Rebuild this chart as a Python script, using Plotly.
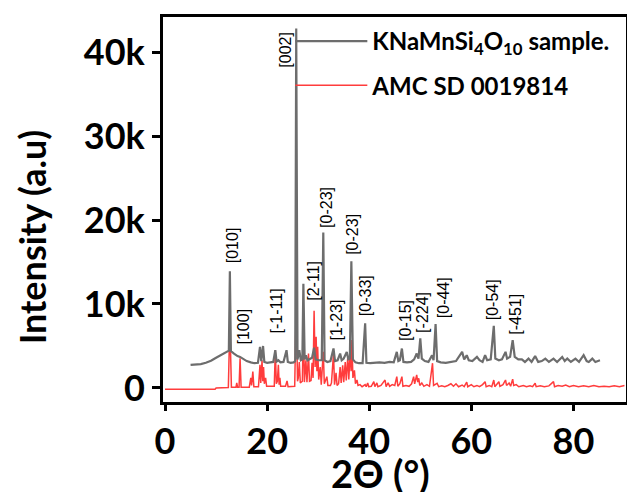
import plotly.graph_objects as go

# ---------------- data ----------------
sample_2theta = [5.0, 6.0, 7.0, 8.0, 9.0, 10.0, 11.0, 12.0, 12.5, 12.7, 12.9, 13.5, 14.2, 14.7, 15.3, 16.0,
                 16.8, 17.5, 18.2, 18.6, 18.85, 19.2, 19.45, 20.0, 20.6, 21.2, 21.6, 21.85, 22.2, 22.6, 23.2,
                 23.8, 24.05, 24.6, 25.2, 25.5, 25.7, 25.95, 26.3, 26.6, 26.9, 27.1, 27.35, 27.6, 27.9, 28.3,
                 28.8, 29.2, 29.5, 30.1, 30.7, 31.0, 31.25, 31.8, 32.4, 33.0, 33.3, 33.8, 34.3, 34.6, 35.0,
                 35.6, 35.9, 36.2, 36.5, 36.8, 37.3, 38.0, 38.7, 39.2, 39.45, 40.2, 41.0, 42.0, 43.0, 44.0,
                 44.8, 45.4, 45.7, 46.0, 46.4, 46.7, 47.4, 48.2, 48.8, 49.3, 49.65, 50.0, 50.3, 50.9, 51.6,
                 52.3, 52.6, 53.0, 53.3, 54.0, 55.0, 56.0, 57.0, 58.2, 58.6, 59.1, 59.5, 60.2, 61.1, 61.6,
                 62.2, 62.7, 63.1, 63.8, 64.4, 64.7, 65.4, 66.0, 66.7, 67.0, 67.6, 68.1, 68.5, 69.2, 69.9,
                 70.5, 71.2, 71.8, 72.5, 73.1, 73.8, 74.5, 75.2, 76.1, 76.8, 77.8, 78.3, 78.8, 79.5, 80.4,
                 81.1, 82.0, 82.6, 83.0, 83.7, 84.3, 85.2]
sample_intensity = [2750, 2800, 2850, 3000, 3250, 3600, 3950, 4300, 4450, 13900, 4400, 4100, 3800, 3700, 3450, 3200,
                    3050, 2950, 3000, 4900, 3200, 5000, 3100, 3000, 3050, 3100, 4500, 3150, 3300, 3050, 3100,
                    4500, 3100, 3000, 3050, 3200, 42800, 3400, 4500, 3300, 3400, 12400, 3400, 3900, 3300, 3400,
                    3600, 4800, 3400, 3300, 3300, 18500, 3300, 3100, 3200, 4700, 3200, 3300, 4100, 3300, 3500,
                    4300, 3400, 3500, 15100, 3400, 3050, 2950, 2950, 7700, 3000, 2950, 3000, 3050, 3000, 3100,
                    3050, 4300, 3200, 3300, 4700, 3100, 3050, 3100, 3400, 4100, 3500, 5900, 3500, 3200, 3100,
                    3900, 3300, 7600, 3200, 3050, 3000, 3100, 3200, 4300, 3400, 3900, 3300, 3200, 3700, 3300,
                    3100, 3900, 3300, 3400, 7400, 3500, 3300, 3400, 4300, 3500, 3700, 5700, 3700, 3400, 3400,
                    3100, 3500, 3100, 3800, 3100, 3200, 3500, 3100, 3500, 3100, 3700, 3200, 3500, 3100, 3500,
                    3100, 3900, 3200, 3100, 3500, 3100, 3300]

ref_2theta = [0.0, 9.8, 10.0, 12.4, 12.7, 13.0, 13.9, 14.05, 14.2, 14.5, 14.7, 14.9, 16.5, 16.8, 16.95, 17.2,
              17.4, 18.3, 18.6, 18.75, 19.0, 19.15, 19.3, 19.45, 19.7, 19.9, 21.4, 21.6, 21.8, 22.0, 22.2,
              22.35, 22.5, 22.65, 23.6, 23.9, 24.1, 25.4, 25.7, 25.95, 26.1, 26.3, 26.5, 26.9, 27.1, 27.3,
              27.6, 27.8, 28.1, 28.3, 28.6, 28.8, 29.0, 29.2, 29.4, 29.6, 29.75, 29.9, 30.1, 30.4, 30.6,
              31.0, 31.2, 31.7, 31.9, 32.4, 32.6, 33.0, 33.2, 33.5, 33.7, 34.0, 34.3, 34.5, 34.8, 35.0,
              35.3, 35.5, 35.8, 36.0, 36.3, 36.45, 36.6, 36.8, 37.1, 37.3, 37.6, 37.8, 38.2, 38.6, 39.2,
              39.4, 39.7, 39.9, 40.4, 40.9, 41.1, 41.5, 41.7, 42.3, 43.1, 43.3, 43.7, 44.0, 44.5, 45.0,
              45.4, 45.6, 46.0, 46.4, 46.6, 47.2, 47.8, 48.3, 48.7, 48.9, 49.3, 49.5, 49.7, 49.9, 50.3,
              50.7, 51.3, 51.8, 52.4, 52.6, 53.3, 53.6, 54.2, 54.8, 55.4, 56.0, 56.5, 57.0, 57.5, 58.2,
              58.6, 59.1, 59.3, 60.0, 60.5, 61.1, 61.6, 62.2, 62.7, 62.9, 63.5, 64.0, 64.4, 64.6, 65.4,
              65.6, 66.2, 66.7, 66.9, 67.4, 67.7, 68.1, 68.3, 68.8, 69.3, 70.2, 70.8, 71.5, 72.0, 72.5,
              72.7, 73.5, 74.3, 75.2, 76.1, 76.3, 77.0, 77.8, 78.5, 79.2, 80.0, 81.0, 82.0, 83.0, 84.0,
              85.0, 86.0, 87.0, 88.0, 89.0, 90.0]
ref_intensity = [-150, -150, 0, 50, 7800, 100, 100, 600, 100, 100, 3550, 100, 100, 1200, 300, 1950,
                 150, 150, 2750, 600, 3300, 800, 2500, 500, 1200, 200, 200, 4500, 500, 800, 2750,
                 400, 1200, 200, 200, 850, 150, 200, 10000, 800, 1200, 3100, 600, 800, 8100, 700,
                 3300, 700, 4100, 800, 900, 3000, 1200, 9200, 2500, 6100, 2000, 4900, 1000, 2500, 400,
                 4300, 500, 1350, 300, 300, 600, 4100, 400, 1800, 300, 500, 2500, 600, 2700, 700,
                 3100, 900, 3700, 1000, 4700, 2000, 5700, 1200, 2100, 500, 950, 300, 400, 150, 400,
                 150, 600, 150, 200, 750, 150, 600, 150, 300, 950, 150, 600, 200, 400, 300,
                 1350, 200, 500, 1350, 200, 300, 200, 500, 1350, 500, 1550, 700, 1150, 300, 600,
                 200, 400, 200, 2950, 300, 560, 150, 250, 150, 300, 500, 200, 500, 150, 350,
                 150, 700, 150, 400, 150, 300, 150, 400, 750, 150, 300, 150, 950, 150, 750,
                 200, 400, 950, 300, 600, 200, 1050, 300, 400, 150, 300, 150, 250, 150, 560,
                 150, 250, 150, 250, 750, 150, 300, 200, 350, 150, 300, 150, 250, 150, 300,
                 150, 200, 150, 250, 150, 300]

peak_labels = ["[010]", "[100]", "[-1-11]", "[002]", "[2-11]", "[0-23]", "[1-23]", "[0-23]",
               "[0-33]", "[0-15]", "[-224]", "[0-44]", "[0-54]", "[-451]"]
peak_label_2theta = [13.1, 15.4, 21.9, 23.7, 29.1, 31.6, 33.5, 36.7, 39.3, 47.1, 50.4, 54.6, 64.2, 68.6]
peak_label_base = [14600, 4900, 6300, 37900, 10100, 18800, 5360, 15600, 8330, 5360, 6300, 8100, 7860, 6070]

x_tickvals = [0, 20, 40, 60, 80]
x_ticktext = ["<b>0</b>", "<b>20</b>", "<b>40</b>", "<b>60</b>", "<b>80</b>"]
y_tickvals = [0, 10000, 20000, 30000, 40000]
y_ticktext = ["<b>0</b>", "<b>10k</b>", "<b>20k</b>", "<b>30k</b>", "<b>40k</b>"]

series_names = ["<b>KNaMnSi<sub>4</sub>O<sub>10</sub> sample.</b>", "<b>AMC SD 0019814</b>"]

# ---------------- figure ----------------
GRAY = "#6d6d6d"
RED = "#ff3c3c"
XR = [-0.4, 90.3]
YR = [-1670, 44170]

fig = go.Figure()
fig.add_trace(go.Scatter(x=ref_2theta, y=ref_intensity, mode="lines", name=series_names[1],
                         line=dict(color=RED, width=1.5), legendgroup="b", legendrank=2))
fig.add_trace(go.Scatter(x=sample_2theta, y=sample_intensity, mode="lines", name=series_names[0],
                         line=dict(color=GRAY, width=2.2), legendgroup="a", legendrank=1))

for lab, px, py in zip(peak_labels, peak_label_2theta, peak_label_base):
    fig.add_annotation(x=px, y=py, text=lab, textangle=-90, showarrow=False,
                       xanchor="center", yanchor="bottom",
                       font=dict(family="Liberation Sans", size=16, color="black"))

fig.update_layout(
    width=627, height=492,
    margin=dict(l=163, r=1, t=17, b=90, autoexpand=False),
    paper_bgcolor="white", plot_bgcolor="rgba(0,0,0,0)",
    showlegend=True,
    legend=dict(x=0.275, y=0.995, xanchor="left", yanchor="top", bgcolor="rgba(0,0,0,0)",
                font=dict(family="Lato", size=24, color="black"),
                itemwidth=72, tracegroupgap=10, traceorder="grouped"),
    xaxis=dict(range=XR, tickvals=x_tickvals, ticktext=x_ticktext, ticks="outside", ticklen=6,
               tickwidth=3, tickcolor="black", tickfont=dict(family="Lato", size=36, color="black"),
               showline=True, linecolor="black", linewidth=3, mirror=True,
               showgrid=False, zeroline=False),
    yaxis=dict(range=YR, tickvals=y_tickvals, ticktext=y_ticktext, ticks="outside", ticklen=8,
               tickwidth=3, tickcolor="black", tickfont=dict(family="Lato", size=36, color="black"),
               showline=True, linecolor="black", linewidth=3, mirror=True,
               showgrid=False, zeroline=False),
)

fig.add_annotation(text="<b>Intensity (a.u)</b>", xref="paper", yref="paper", x=-0.281, y=0.43,
                   textangle=-90, showarrow=False, xanchor="center", yanchor="middle",
                   font=dict(family="Lato", size=36, color="black"))
fig.add_annotation(text="<b>2Θ (°)</b>", xref="paper", yref="paper", x=0.469, y=-0.185,
                   showarrow=False, xanchor="center", yanchor="middle",
                   font=dict(family="Lato", size=38, color="black"))

fig.write_html("out.html", config={"displayModeBar": False},
               post_script="document.body.style.margin='0';")
